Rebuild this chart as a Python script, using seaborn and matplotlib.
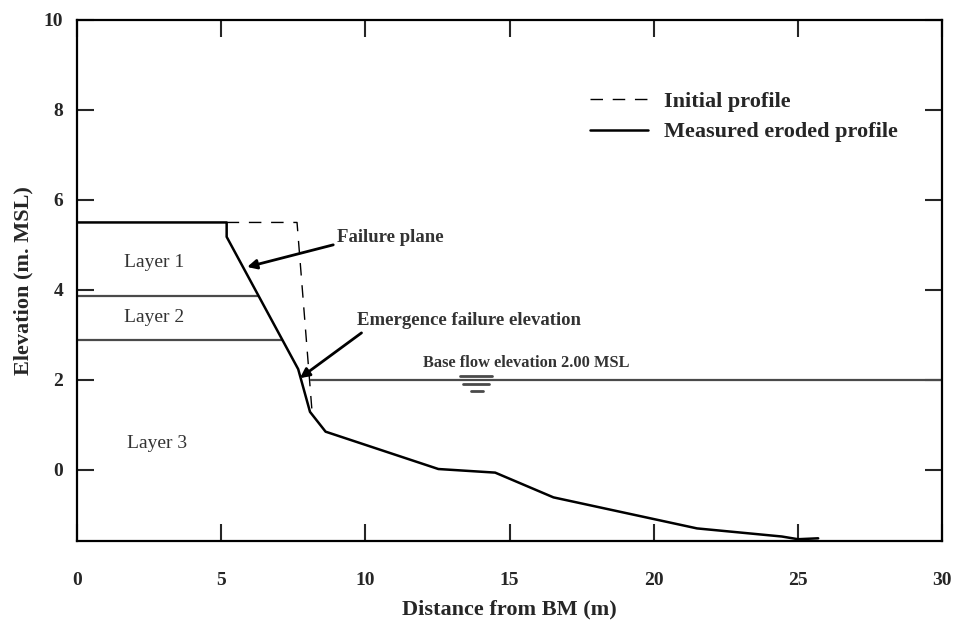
import seaborn as sns
import pandas as pd
import matplotlib.pyplot as plt

# measured eroded profile (m, m MSL)
measured_x = [0, 5.19, 5.19, 7.67, 8.08, 8.62, 12.53, 14.5, 16.52, 21.5, 24.44, 25.0, 25.7]
measured_y = [5.5, 5.5, 5.18, 2.24, 1.29, 0.85, 0.02, -0.06, -0.61, -1.30, -1.48, -1.54, -1.52]

# initial profile
initial_x = [5.19, 7.63, 8.15]
initial_y = [5.5, 5.5, 1.3]

# layer boundaries and base flow
layer1_x = [0, 6.27]
layer1_y = [3.87, 3.87]
layer2_x = [0, 7.12]
layer2_y = [2.89, 2.89]
base_x = [8.1, 30]
base_y = [2.0, 2.0]

# water level symbol
water_x = [[13.28, 14.39], [13.4, 14.3], [13.67, 14.08]]
water_y = [2.09, 1.91, 1.76]

sns.set_style('ticks')
plt.rcParams['font.family'] = ['Liberation Serif', 'DejaVu Serif']

fig = plt.figure(figsize=(9.55, 6.24), dpi=100)
ax = fig.add_axes([0.0806, 0.133, 0.906, 0.835])

grey = '#4a4a4a'
sns.lineplot(x=layer1_x, y=layer1_y, ax=ax, color=grey, lw=1.6)
sns.lineplot(x=layer2_x, y=layer2_y, ax=ax, color=grey, lw=1.6)
sns.lineplot(x=base_x, y=base_y, ax=ax, color=grey, lw=1.6)
for wx, wy in zip(water_x, water_y):
    ax.plot(wx, [wy, wy], color=grey, lw=2)

sns.lineplot(x=initial_x, y=initial_y, ax=ax, color='black', lw=1.0, sort=False,
             estimator=None, linestyle=(0, (9, 7)), label='Initial profile')
sns.lineplot(x=measured_x, y=measured_y, ax=ax, color='black', lw=1.8, sort=False,
             estimator=None, label='Measured eroded profile')

leg = ax.legend(loc='upper left', bbox_to_anchor=(0.593, 0.863), frameon=False,
                handlelength=2.6, handletextpad=0.75, labelspacing=0.45,
                borderpad=0, borderaxespad=0, prop={'weight': 'bold', 'size': 16})

# annotations
txt = '#333333'
ax.text(2.67, 4.62, 'Layer 1', fontsize=14, color=txt, ha='center', va='center')
ax.text(2.67, 3.38, 'Layer 2', fontsize=14, color=txt, ha='center', va='center')
ax.text(2.77, 0.58, 'Layer 3', fontsize=14, color=txt, ha='center', va='center')
ax.annotate('Failure plane', xy=(5.9, 4.51), xytext=(9.0, 5.16), fontsize=13.5,
            fontweight='bold', color=txt, va='center', ha='left',
            arrowprops=dict(arrowstyle='-|>', color='black', lw=2, mutation_scale=14,
                            shrinkA=0, shrinkB=0, relpos=(-0.02, 0.1)))
ax.annotate('Emergence failure elevation', xy=(7.73, 2.04), xytext=(9.71, 3.31),
            fontsize=13.5, fontweight='bold', color=txt, va='center', ha='left',
            arrowprops=dict(arrowstyle='-|>', color='black', lw=2, mutation_scale=14,
                            shrinkA=0, shrinkB=0, relpos=(0.02, -0.2)))
ax.text(15.59, 2.38, 'Base flow elevation 2.00 MSL', fontsize=11.8, fontweight='bold',
        color=txt, ha='center', va='center')

ax.set_xlim(0, 30)
ax.set_ylim(-1.58, 10)
ax.set_xticks(range(0, 31, 5))
ax.set_yticks(range(0, 11, 2))
ax.tick_params(direction='in', length=12.5, width=1.5, top=True, right=True,
               labelsize=14)
ax.tick_params(axis='x', pad=22)
ax.tick_params(axis='y', pad=10)
for lab in ax.get_xticklabels() + ax.get_yticklabels():
    lab.set_fontweight('bold')
for sp in ax.spines.values():
    sp.set_linewidth(1.6)
    sp.set_color('black')

ax.set_xlabel('Distance from BM (m)', fontsize=16, fontweight='bold', labelpad=8)
ax.set_ylabel('Elevation (m. MSL)', fontsize=16, fontweight='bold', labelpad=7)

fig.savefig('out.png', dpi=100)
